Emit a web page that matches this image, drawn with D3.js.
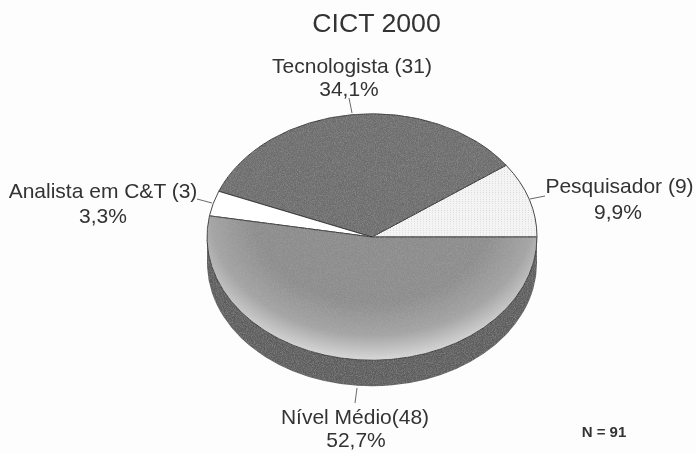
<!DOCTYPE html>
<html><head><meta charset="utf-8">
<script src="https://cdn.jsdelivr.net/npm/d3@7/dist/d3.min.js"></script>
<style>html,body{margin:0;padding:0;background:#fdfdfd}svg{display:block;filter:blur(.35px)}text{font-family:"Liberation Sans",Arial,sans-serif;fill:#333}</style>
</head><body><svg id="c" width="696" height="453"></svg>
<script>
const categories = ["Pesquisador (9)", "Tecnologista (31)", "Analista em C&T (3)", "Nível Médio(48)"];
const counts = [9, 31, 3, 48];
const percentLabels = ["9,9%", "34,1%", "3,3%", "52,7%"];
const sliceColors = ["url(#dots)", "#6c6c6c", "#ffffff", "url(#medio)"];
const sliceGrain = [false, true, false, true];
const titleText = "CICT 2000";
const noteText = "N = 91";

const W = 696, H = 453, cx = 372, cy = 237, rx = 165, squash = 0.747, depth = 26;
const svg = d3.select("#c");
svg.append("rect").attr("width", W).attr("height", H).attr("fill", "#fdfdfd");

const defs = svg.append("defs");
const g = defs.append("radialGradient").attr("id", "medio").attr("gradientUnits", "userSpaceOnUse")
  .attr("cx", 0).attr("cy", -30).attr("r", 197);
[[0, "#8a8a8a"], [0.6, "#8c8c8c"], [0.82, "#a4a4a4"], [0.97, "#d4d4d4"], [1, "#dedede"]]
  .forEach(([o, c]) => g.append("stop").attr("offset", o).attr("stop-color", c));
const pat = defs.append("pattern").attr("id", "dots").attr("patternUnits", "userSpaceOnUse").attr("width", 3).attr("height", 3);
pat.append("rect").attr("width", 3).attr("height", 3).attr("fill", "#f4f4f4");
pat.append("rect").attr("width", 1).attr("height", 1).attr("fill", "#d6d6d6");
const f = defs.append("filter").attr("id", "grain").attr("x", "-5%").attr("y", "-5%").attr("width", "110%").attr("height", "110%");
f.append("feTurbulence").attr("type", "fractalNoise").attr("baseFrequency", 0.9).attr("numOctaves", 2).attr("seed", 4).attr("result", "n");
f.append("feColorMatrix").attr("in", "n").attr("type", "matrix")
  .attr("values", "0 0 0 0 0.5  0 0 0 0 0.5  0 0 0 0 0.5  0.6 0 0 0 -0.22").attr("result", "m");
f.append("feComposite").attr("in", "m").attr("in2", "SourceGraphic").attr("operator", "in").attr("result", "c");
f.append("feMerge").selectAll("feMergeNode").data(["SourceGraphic", "c"]).join("feMergeNode").attr("in", d => d);

const pie = d3.pie().sort(null).startAngle(Math.PI / 2).endAngle(Math.PI / 2 - 2 * Math.PI);
const arcs = pie(counts);
const arc = d3.arc().innerRadius(0).outerRadius(rx);

// side wall of the disc
const wall = svg.append("g").attr("filter", "url(#grain)");
wall.append("rect").attr("x", cx - rx).attr("y", cy).attr("width", 2 * rx).attr("height", depth).attr("fill", "#5c5c5c");
wall.append("path").attr("transform", `translate(${cx},${cy + depth}) scale(1,${squash})`)
  .attr("d", arc(arcs[3])).attr("fill", "#5c5c5c");

// top face
svg.append("g").attr("transform", `translate(${cx},${cy}) scale(1,${squash})`)
  .selectAll("path").data(arcs).join("path")
  .attr("d", arc).attr("fill", (d, i) => sliceColors[i])
  .attr("filter", (d, i) => sliceGrain[i] ? "url(#grain)" : null)
  .attr("stroke", "#2e2e2e").attr("stroke-width", 1).attr("stroke-linejoin", "round");

// leader lines
const leaders = [[530, 199, 545, 196], [352, 113, 349, 98], [212, 203, 197, 199], [357, 388, 355, 403]];
svg.selectAll("line.l").data(leaders).join("line").attr("class", "l")
  .attr("x1", d => d[0]).attr("y1", d => d[1]).attr("x2", d => d[2]).attr("y2", d => d[3])
  .attr("stroke", "#444").attr("stroke-width", 0.8);

// labels
const labelPos = [[619.5, 193, 618, 219], [352, 73, 349, 96], [103, 198, 103, 223], [355, 424, 356, 447]];
categories.forEach((c, i) => {
  const p = labelPos[i];
  svg.append("text").attr("x", p[0]).attr("y", p[1]).attr("text-anchor", "middle").attr("font-size", 21).text(c);
  svg.append("text").attr("x", p[2]).attr("y", p[3]).attr("text-anchor", "middle").attr("font-size", 21).text(percentLabels[i]);
});
svg.append("text").attr("x", 376.5).attr("y", 32).attr("text-anchor", "middle").attr("font-size", 26.7).text(titleText);
svg.append("text").attr("x", 604).attr("y", 437).attr("text-anchor", "middle").attr("font-size", 15).attr("font-weight", "bold").text(noteText);
</script></body></html>
